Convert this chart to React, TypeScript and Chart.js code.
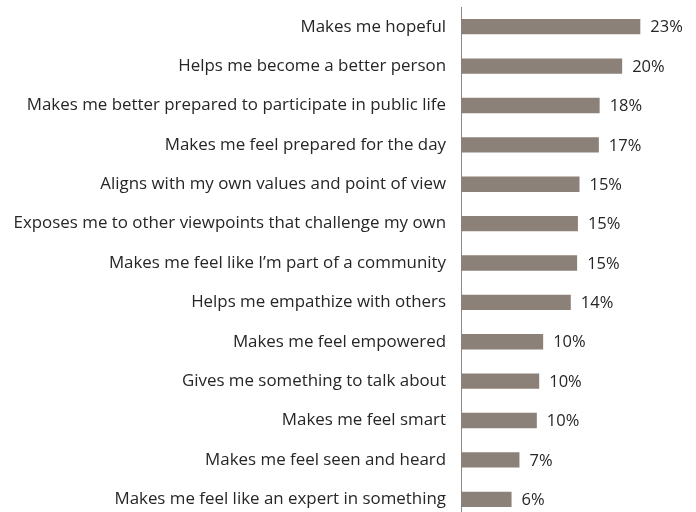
import React, { useEffect, useRef } from "react";
import { Chart, registerables } from "chart.js";

Chart.register(...registerables);

const categories: string[] = [
  "Makes me hopeful",
  "Helps me become a better person",
  "Makes me better prepared to participate in public life",
  "Makes me feel prepared for the day",
  "Aligns with my own values and point of view",
  "Exposes me to other viewpoints that challenge my own",
  "Makes me feel like I\u2019m part of a community",
  "Helps me empathize with others",
  "Makes me feel empowered",
  "Gives me something to talk about",
  "Makes me feel smart",
  "Makes me feel seen and heard",
  "Makes me feel like an expert in something",
];

const values: number[] = [22.7, 20.4, 17.55, 17.45, 15.0, 14.8, 14.7, 13.9, 10.4, 9.9, 9.6, 7.4, 6.4];

const FONT = "'Open Sans', sans-serif";
const TEXT_COLOR = "#262626";
const BAR_COLOR = "#8c8179";

const valueLabelPlugin = {
  id: "valueLabels",
  afterDatasetsDraw(chart: any) {
    const ctx = chart.ctx;
    const meta = chart.getDatasetMeta(0);
    ctx.save();
    ctx.font = `16.5px ${FONT}`;
    ctx.fillStyle = TEXT_COLOR;
    ctx.textAlign = "left";
    ctx.textBaseline = "middle";
    meta.data.forEach((bar: any, i: number) => {
      ctx.fillText(`${Math.round(values[i])}%`, bar.x + 10, bar.y + 1);
    });
    ctx.restore();
  },
};

export default function App() {
  const ref = useRef<HTMLCanvasElement | null>(null);

  useEffect(() => {
    if (!ref.current) return;
    const chart = new Chart(ref.current, {
      type: "bar",
      data: {
        labels: categories,
        datasets: [
          {
            data: values,
            backgroundColor: BAR_COLOR,
            borderWidth: 0,
            barPercentage: 0.39,
            categoryPercentage: 1,
          },
        ],
      },
      options: {
        indexAxis: "y",
        responsive: false,
        animation: false,
        layout: { padding: { top: 7, bottom: 11, left: 0, right: 37.5 } },
        plugins: {
          legend: { display: false },
          tooltip: { enabled: false },
        },
        scales: {
          x: {
            display: false,
            min: 0,
            max: 25,
          },
          y: {
            grid: { display: false, drawTicks: false },
            border: { display: true, color: "#8a8a8a", width: 1 },
            ticks: {
              color: TEXT_COLOR,
              font: { family: FONT, size: 16.9 },
              padding: 15,
            },
            afterFit(scale: any) {
              scale.width = 461;
              scale.paddingTop = 0;
              scale.paddingBottom = 0;
            },
          },
        },
      },
      plugins: [valueLabelPlugin],
    });
    return () => chart.destroy();
  }, []);

  return (
    <div
      style={{
        position: "fixed",
        top: 0,
        left: 0,
        width: 696,
        height: 512,
        overflow: "hidden",
        background: "#ffffff",
      }}
    >
      <canvas ref={ref} width={696} height={530} style={{ display: "block" }} />
    </div>
  );
}
